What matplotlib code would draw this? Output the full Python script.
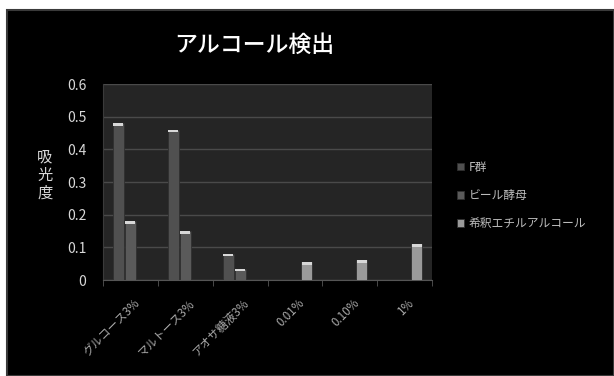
import numpy as np
import matplotlib.pyplot as plt
from matplotlib.patches import Rectangle

plt.rcParams['font.family'] = ['Noto Sans CJK JP', 'DejaVu Sans']

categories = ['グルコース3%', 'マルトース3%', 'アオサ糖液3%', '0.01%', '0.10%', '1%']
series_names = ['F群', 'ビール酵母', '希釈エチルアルコール']
f_gun = [0.48, 0.46, 0.08, 0, 0, 0]
beer_yeast = [0.18, 0.15, 0.035, 0, 0, 0]
ethanol = [0, 0, 0, 0.055, 0.06, 0.11]
series_colors = ['#505050', '#5a5a5a', '#9a9a9a']
yticks = [0, 0.1, 0.2, 0.3, 0.4, 0.5, 0.6]

W, H = 614, 376
fig = plt.figure(figsize=(W / 100, H / 100), dpi=100, facecolor='white')
# black chart frame
fig.patches.append(Rectangle((7 / W, 0), 1 - 7 / W, 1 - 10 / H, transform=fig.transFigure,
                             facecolor='black', edgecolor='#3a3a3a', linewidth=1.5,
                             zorder=-10))

ax = fig.add_axes([103 / W, (H - 280) / H, (432 - 103) / W, (280 - 84) / H])
ax.set_facecolor('#252525')

x = np.arange(len(categories))
width = 0.2
offsets = [-0.22, 0, 0.22]
for vals, off, col, name in zip([f_gun, beer_yeast, ethanol], offsets, series_colors, series_names):
    bars = ax.bar(x + off, vals, width, color=col, edgecolor='#303030', linewidth=0.6,
                  label=name, zorder=3)
    # lighter cap on top of each bar
    for b, v in zip(bars, vals):
        if v > 0:
            ax.bar(b.get_x() + b.get_width() / 2, 0.008, b.get_width() * 0.9, bottom=v - 0.008,
                   color='#d8d8d8', linewidth=0, zorder=4)

ax.set_xlim(-0.5, len(categories) - 0.5)
ax.set_ylim(0, 0.6)
ax.set_yticks(yticks)
ax.set_yticklabels(['0', '0.1', '0.2', '0.3', '0.4', '0.5', '0.6'])
ax.yaxis.grid(True, color='#4a4a4a', linewidth=1, zorder=0)
ax.set_axisbelow(True)
ax.tick_params(axis='y', length=0, colors='#d8d8d8', labelsize=10, pad=12)

ax.set_xticks(x + 0.05)
ax.set_xticklabels(categories, rotation=45, ha='right', rotation_mode='anchor',
                   fontsize=8.3, color='#a8a8a8')
ax.tick_params(axis='x', length=0, pad=12)
ax.set_xticks(np.arange(len(categories) + 1) - 0.5, minor=True)
ax.tick_params(axis='x', which='minor', length=4, color='#555555', direction='out')

for s in ['top', 'right']:
    ax.spines[s].set_visible(False)
ax.spines['left'].set_color('#3a3a3a')
ax.spines['bottom'].set_color('#555555')

fig.text(45 / W, 1 - 175 / H, '吸\n光\n度', color='#d8d8d8', fontsize=11,
         ha='center', va='center', linespacing=1.1)
fig.text(254 / W, 1 - 45 / H, 'アルコール検出', color='white', fontsize=16.5,
         fontweight='medium', ha='center', va='center')

leg = fig.legend(loc='upper left', bbox_to_anchor=(446 / W, 1 - 150 / H), frameon=False,
                 fontsize=8.5, labelcolor='#bdbdbd', handlelength=0.6, handleheight=0.6,
                 handletextpad=0.4, labelspacing=1.3)

fig.savefig('out.png', dpi=100, facecolor='white')
